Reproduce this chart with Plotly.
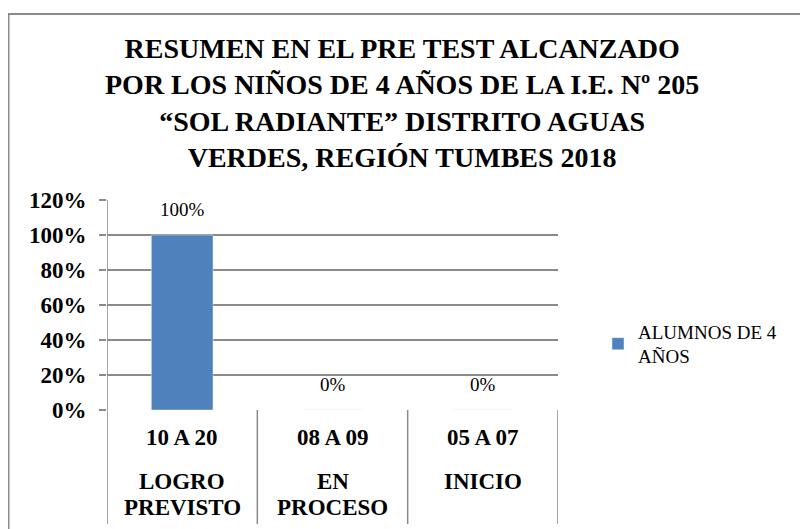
import plotly.graph_objects as go

# ---- data ----
ranges = ["10 A 20", "08 A 09", "05 A 07"]
levels = ["LOGRO<br>PREVISTO", "EN<br>PROCESO", "INICIO"]
values = [1.00, 0.00, 0.00]
series_name = "ALUMNOS DE 4<br>AÑOS"
title_text = ("RESUMEN EN EL PRE TEST ALCANZADO<br>POR LOS NIÑOS DE 4 AÑOS DE LA I.E. Nº 205<br>"
              "“SOL RADIANTE” DISTRITO AGUAS<br>VERDES, REGIÓN TUMBES 2018")

FONT = "Times New Roman, Liberation Serif, serif"
GRID = "#8a8a8a"
BAR = "#4F81BD"

OFF = 8  # page body margin
W, H = 800, 521
L, R, T, B = 99, 250, 192, 119
pw = W - L - R
ph = H - T - B


def px_x(p):
    return (p - OFF - L) / pw


def px_y(p):
    return (H - B - (p - OFF)) / ph


xs = list(range(len(ranges)))

fig = go.Figure()
fig.add_trace(go.Bar(
    x=xs, y=values, name=series_name, marker_color=BAR, width=0.41,
    showlegend=True,
))

BOLD = dict(family=FONT, color="#000", weight=700)

annotations = []
# chart title
annotations.append(dict(x=px_x(402), y=px_y(103), xref="paper", yref="paper",
                        text=title_text, showarrow=False,
                        xanchor="center", yanchor="middle", align="center",
                        font=dict(BOLD, size=28)))
for i, v in enumerate(values):
    annotations.append(dict(x=i, y=v, xref="x", yref="y", text=f"{v:.0%}", showarrow=False,
                            yanchor="bottom", yshift=13,
                            font=dict(family=FONT, size=19, color="#000")))
for i, (rg, lv) in enumerate(zip(ranges, levels)):
    annotations.append(dict(x=i, y=px_y(437), xref="x", yref="paper", text=rg,
                            showarrow=False, yanchor="middle",
                            font=dict(BOLD, size=23)))
    for j, line in enumerate(lv.split("<br>")):
        annotations.append(dict(x=i, y=px_y(481 + 26 * j), xref="x", yref="paper",
                                text=line, showarrow=False, yanchor="middle",
                                font=dict(BOLD, size=23)))

shapes = []
# outer chart frame
shapes.append(dict(type="rect", xref="paper", yref="paper",
                   x0=px_x(8.5), x1=px_x(900), y0=px_y(600), y1=px_y(14),
                   line=dict(color="#8c8c8c", width=2), layer="below"))
# category separators
for k in range(len(ranges) + 1):
    shapes.append(dict(type="line", xref="x", yref="paper", x0=k - 0.5, x1=k - 0.5,
                       y0=px_y(524), y1=0 if k > 0 else 1,
                       line=dict(color=GRID, width=1.5)))

fig.update_layout(
    width=W, height=H, autosize=False,
    margin=dict(l=L, r=R, t=T, b=B),
    paper_bgcolor="white", plot_bgcolor="white",
    xaxis=dict(range=[-0.5, 2.5], showticklabels=False, showgrid=False, zeroline=False,
               showline=False, ticks=""),
    yaxis=dict(range=[0, 1.2], dtick=0.2, tickformat=".0%", showgrid=True, gridcolor=GRID,
               gridwidth=1.5, zeroline=False, showline=False, ticks="outside", ticklen=7,
               tickcolor=GRID, tickwidth=1.5, ticklabelstandoff=8,
               tickfont=dict(BOLD, size=23)),
    legend=dict(x=px_x(598), y=px_y(344), xanchor="left", yanchor="middle",
                font=dict(family=FONT, size=19, color="#000"), bgcolor="rgba(0,0,0,0)"),
    annotations=annotations,
    shapes=shapes,
    bargap=0.5,
)

fig.write_html("out.html")
